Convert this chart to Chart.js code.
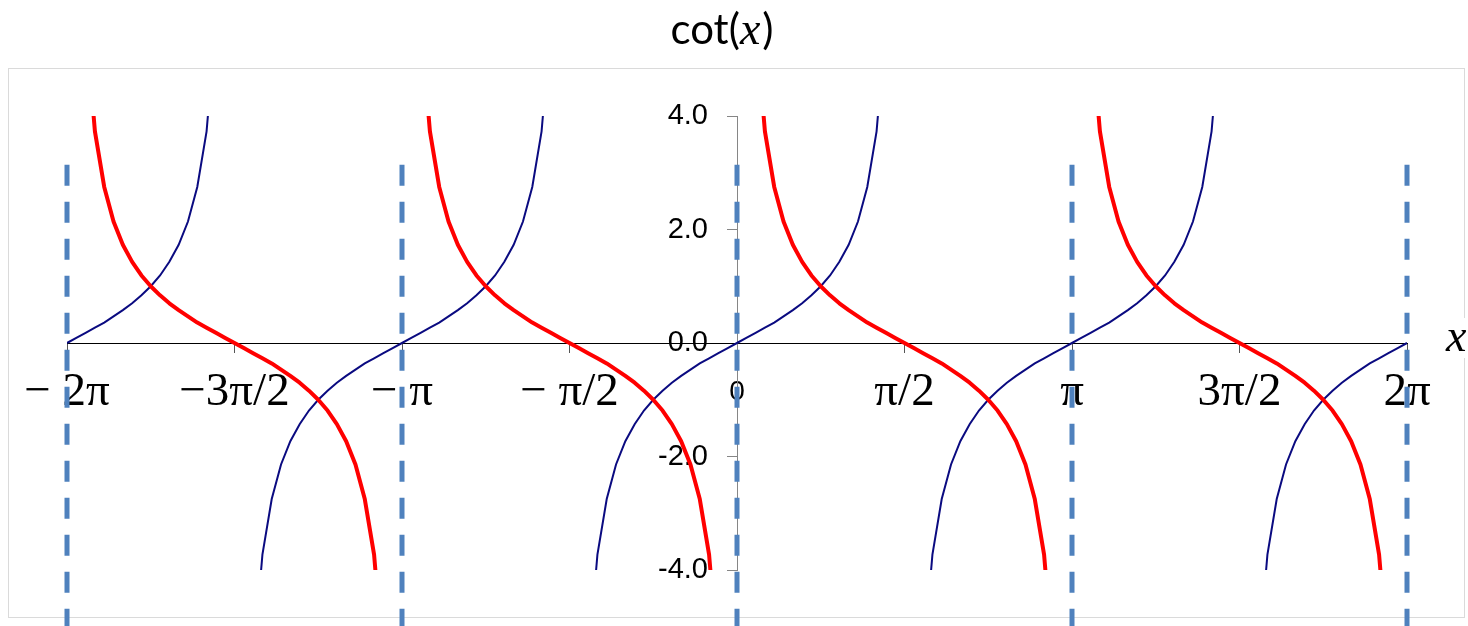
<!DOCTYPE html>
<html><head><meta charset="utf-8">
<script src="https://cdn.jsdelivr.net/npm/chart.js@4"></script>
<style>html,body{margin:0;padding:0;background:#fff;}canvas{display:block;}</style>
</head><body>
<canvas id="c" width="1468" height="626"></canvas>
<script>
// x positions in degrees (-2π .. 2π)
const xDegrees = [-360, -355, -350, -345, -340, -335, -330, -325, -320, -315, -310, -305, -300, -295, -290, -285, -280, -275, -270, -265, -260, -255, -250, -245, -240, -235, -230, -225, -220, -215, -210, -205, -200, -195, -190, -185, -180, -175, -170, -165, -160, -155, -150, -145, -140, -135, -130, -125, -120, -115, -110, -105, -100, -95, -90, -85, -80, -75, -70, -65, -60, -55, -50, -45, -40, -35, -30, -25, -20, -15, -10, -5, 0, 5, 10, 15, 20, 25, 30, 35, 40, 45, 50, 55, 60, 65, 70, 75, 80, 85, 90, 95, 100, 105, 110, 115, 120, 125, 130, 135, 140, 145, 150, 155, 160, 165, 170, 175, 180, 185, 190, 195, 200, 205, 210, 215, 220, 225, 230, 235, 240, 245, 250, 255, 260, 265, 270, 275, 280, 285, 290, 295, 300, 305, 310, 315, 320, 325, 330, 335, 340, 345, 350, 355, 360];

// blue series (tan)
const tanValues = [
  0, 0.09, 0.18, 0.27, 0.36, 0.47, 0.58, 0.7, 0.84, 1, 1.19, 1.43, 1.73, 2.14, 2.75, 3.73, 5.67, 11.43, null, -11.43, -5.67, -3.73, -2.75, -2.14, -1.73, -1.43, -1.19, -1, -0.84, -0.7, -0.58, -0.47, -0.36, -0.27, -0.18, -0.09, 0,
  0.09, 0.18, 0.27, 0.36, 0.47, 0.58, 0.7, 0.84, 1, 1.19, 1.43, 1.73, 2.14, 2.75, 3.73, 5.67, 11.43, null, -11.43, -5.67, -3.73, -2.75, -2.14, -1.73, -1.43, -1.19, -1, -0.84, -0.7, -0.58, -0.47, -0.36, -0.27, -0.18, -0.09, 0,
  0.09, 0.18, 0.27, 0.36, 0.47, 0.58, 0.7, 0.84, 1, 1.19, 1.43, 1.73, 2.14, 2.75, 3.73, 5.67, 11.43, null, -11.43, -5.67, -3.73, -2.75, -2.14, -1.73, -1.43, -1.19, -1, -0.84, -0.7, -0.58, -0.47, -0.36, -0.27, -0.18, -0.09, 0,
  0.09, 0.18, 0.27, 0.36, 0.47, 0.58, 0.7, 0.84, 1, 1.19, 1.43, 1.73, 2.14, 2.75, 3.73, 5.67, 11.43, null, -11.43, -5.67, -3.73, -2.75, -2.14, -1.73, -1.43, -1.19, -1, -0.84, -0.7, -0.58, -0.47, -0.36, -0.27, -0.18, -0.09, 0
];

// red series (cot)
const cotValues = [
  null, 11.43, 5.67, 3.73, 2.75, 2.14, 1.73, 1.43, 1.19, 1, 0.84, 0.7, 0.58, 0.47, 0.36, 0.27, 0.18, 0.09, 0, -0.09, -0.18, -0.27, -0.36, -0.47, -0.58, -0.7, -0.84, -1, -1.19, -1.43, -1.73, -2.14, -2.75, -3.73, -5.67, -11.43, null,
  11.43, 5.67, 3.73, 2.75, 2.14, 1.73, 1.43, 1.19, 1, 0.84, 0.7, 0.58, 0.47, 0.36, 0.27, 0.18, 0.09, 0, -0.09, -0.18, -0.27, -0.36, -0.47, -0.58, -0.7, -0.84, -1, -1.19, -1.43, -1.73, -2.14, -2.75, -3.73, -5.67, -11.43, null,
  11.43, 5.67, 3.73, 2.75, 2.14, 1.73, 1.43, 1.19, 1, 0.84, 0.7, 0.58, 0.47, 0.36, 0.27, 0.18, 0.09, 0, -0.09, -0.18, -0.27, -0.36, -0.47, -0.58, -0.7, -0.84, -1, -1.19, -1.43, -1.73, -2.14, -2.75, -3.73, -5.67, -11.43, null,
  11.43, 5.67, 3.73, 2.75, 2.14, 1.73, 1.43, 1.19, 1, 0.84, 0.7, 0.58, 0.47, 0.36, 0.27, 0.18, 0.09, 0, -0.09, -0.18, -0.27, -0.36, -0.47, -0.58, -0.7, -0.84, -1, -1.19, -1.43, -1.73, -2.14, -2.75, -3.73, -5.67, -11.43, null
];

// asymptote (dashed) lines
const asymptoteX = [-360, -180, 0, 180, 360];
const asymptoteTop = 3.14;
const asymptoteBottom = -5;

// tick labels
const xTickValues = [-360, -270, -180, -90, 0, 90, 180, 270, 360];
const xTickLabels = ['\u2212 2\u03c0', '\u22123\u03c0/2', '\u2212 \u03c0', '\u2212 \u03c0/2', '0', '\u03c0/2', '\u03c0', '3\u03c0/2', '2\u03c0'];
const yTickValues = [-4, -2, 0, 2, 4];
const yTickLabels = ['-4.0', '-2.0', '0.0', '2.0', '4.0'];

const backdropTicks = ['\u2212 2\u03c0', '\u2212 \u03c0', '\u03c0', '2\u03c0'];

const datasets = [];
asymptoteX.forEach(x => {
  datasets.push({
    data: [{x: x, y: asymptoteTop}, {x: x, y: asymptoteBottom}],
    borderColor: '#4f81bd', borderWidth: 5, borderDash: [21, 16], borderCapStyle: 'butt',
    pointRadius: 0, clip: false, fill: false
  });
});
datasets.push({
  data: xDegrees.map((x, i) => ({x: x, y: cotValues[i]})),
  borderColor: '#ff0000', borderWidth: 4, pointRadius: 0, tension: 0, clip: 0, fill: false,
  borderJoinStyle: 'round'
});
datasets.push({
  data: xDegrees.map((x, i) => ({x: x, y: tanValues[i]})),
  borderColor: '#0a0a80', borderWidth: 2, pointRadius: 0, tension: 0, clip: 0, fill: false
});

const decor = {
  id: 'decor',
  beforeDraw(chart) {
    const c = chart.ctx;
    c.save();
    c.strokeStyle = '#dadada';
    c.lineWidth = 1;
    c.strokeRect(8.5, 68.5, 1456, 549);
    c.restore();
  },
  afterDraw(chart) {
    const c = chart.ctx;
    c.save();
    const f1 = '42px Lato';
    const f2 = 'italic 46px "Liberation Serif"';
    c.textBaseline = 'alphabetic';
    c.fillStyle = '#000';
    c.font = f1; const w1 = c.measureText('cot(').width; const w3 = c.measureText(')').width;
    c.font = f2; const w2 = c.measureText('x').width;
    const x0 = 722 - (w1 + w2 + w3 + 2) / 2;
    const by = 44;
    c.font = f1; c.textAlign = 'left'; c.fillText('cot(', x0, by);
    c.font = f2; c.fillText('x', x0 + w1, by);
    c.font = f1; c.fillText(')', x0 + w1 + w2 + 2, by);
    c.fillStyle = '#fff';
    c.fillRect(1440, 318, 28, 40);
    c.fillStyle = '#000';
    c.font = 'italic 46px "Liberation Serif"';
    c.fillText('x', 1446, 351);
    c.restore();
  }
};

new Chart(document.getElementById('c'), {
  type: 'line',
  data: { datasets },
  plugins: [decor],
  options: {
    responsive: false,
    animation: false,
    devicePixelRatio: 1,
    layout: { padding: { left: 67, right: 61, top: 116, bottom: 56 } },
    plugins: { legend: { display: false }, tooltip: { enabled: false }, title: { display: false } },
    scales: {
      x: {
        type: 'linear', min: -360, max: 360, position: { y: 0 }, z: 1,
        afterBuildTicks: s => { s.ticks = xTickValues.map(v => ({ value: v })); },
        grid: { drawOnChartArea: false, drawTicks: true, tickLength: 9, tickColor: '#555', tickWidth: 1 },
        border: { display: true, color: '#000', width: 1 },
        ticks: {
          autoSkip: false, maxRotation: 0, minRotation: 0, padding: 12, color: '#000',
          callback: (v, i) => xTickLabels[i],
          font: ctx => (ctx.tick && ctx.tick.value === 0)
            ? { family: 'Liberation Sans', size: 28, lineHeight: 2.0 }
            : { family: 'Liberation Serif', size: 47, lineHeight: 1.2 },
          showLabelBackdrop: ctx => !!(ctx.tick && backdropTicks.includes(xTickLabels[ctx.index])),
          backdropColor: '#ffffff',
          backdropPadding: ctx => (ctx.tick && ctx.tick.value === 360)
            ? { left: 22, right: 8, top: 14, bottom: 0 }
            : { left: 22, right: 8, top: 4, bottom: 0 }
        }
      },
      y: {
        type: 'linear', min: -4, max: 4, position: { x: 0 },
        afterBuildTicks: s => { s.ticks = yTickValues.map(v => ({ value: v })); },
        grid: { drawOnChartArea: false, drawTicks: true, tickLength: 10, tickColor: '#868686' },
        border: { display: true, color: '#868686', width: 1 },
        ticks: {
          padding: 0, color: '#000',
          callback: (v, i) => yTickLabels[i] + '\u2002\u2002',
          font: { family: 'Liberation Sans', size: 29 }
        }
      }
    }
  }
});
</script>
</body></html>
